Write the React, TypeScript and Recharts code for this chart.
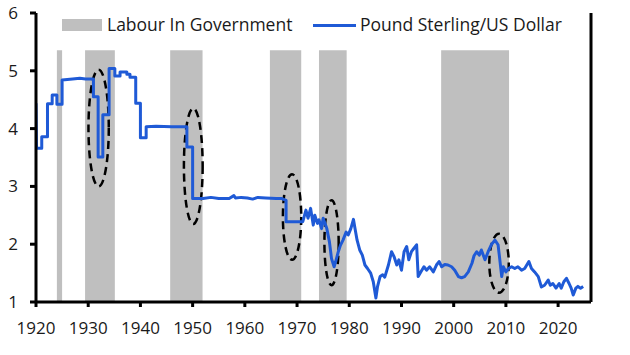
import { LineChart, Line, XAxis, YAxis, ReferenceArea } from "recharts";

// GBP/USD: [year, dollars per pound]
const interwar: [number, number][] = [
  [1920.0, 4.44], [1920.1, 3.66], [1921.1, 3.66], [1921.1, 3.86], [1922.2, 3.86],
  [1922.2, 4.43], [1923.1, 4.43], [1923.1, 4.58], [1924.0, 4.58], [1924.0, 4.42],
  [1925.0, 4.42], [1925.0, 4.84], [1926.0, 4.85], [1927.0, 4.86], [1928.4, 4.87],
  [1929.5, 4.86], [1931.0, 4.86], [1931.0, 4.55], [1931.9, 4.55], [1931.9, 3.51],
  [1932.8, 3.51], [1932.8, 4.24], [1934.0, 4.24], [1934.0, 5.04], [1935.1, 5.04],
  [1935.1, 4.91], [1936.1, 4.91], [1936.1, 4.98], [1937.4, 4.98], [1937.4, 4.94],
  [1938.0, 4.94], [1938.0, 4.89], [1939.1, 4.89], [1939.1, 4.44], [1940.0, 4.44],
  [1940.0, 3.84], [1941.1, 3.84], [1941.1, 4.03], [1943.0, 4.04], [1946.0, 4.03],
  [1948.9, 4.03], [1948.9, 3.68], [1950.0, 3.68], [1950.0, 2.79],
];

const brettonWoods: [number, number][] = [
  [1952.0, 2.79], [1953.5, 2.81], [1955.0, 2.79], [1957.0, 2.79], [1957.9, 2.84],
  [1958.2, 2.8], [1959.3, 2.81], [1960.5, 2.8], [1961.5, 2.78], [1962.5, 2.81],
  [1964.0, 2.8], [1966.0, 2.79], [1967.1, 2.79], [1967.9, 2.76], [1967.9, 2.39],
  [1969.0, 2.39], [1970.5, 2.39], [1971.1, 2.39],
];

const floating: [number, number][] = [
  [1971.7, 2.59], [1972.1, 2.45], [1972.6, 2.62], [1973.1, 2.33], [1973.4, 2.5],
  [1973.9, 2.36], [1974.2, 2.42], [1974.7, 2.27], [1975.0, 2.45], [1975.7, 2.27],
  [1976.2, 2.04], [1976.6, 1.75], [1977.1, 1.61], [1977.4, 1.7], [1977.9, 1.87],
  [1978.3, 1.98], [1978.8, 2.07], [1979.4, 2.21], [1979.8, 2.16], [1980.3, 2.27],
  [1980.8, 2.43], [1981.1, 2.27], [1981.5, 2.07], [1982.0, 1.9], [1982.5, 1.81],
  [1983.0, 1.64], [1983.5, 1.58], [1984.1, 1.5], [1984.6, 1.35], [1985.1, 1.07],
  [1985.4, 1.26], [1985.9, 1.44], [1986.4, 1.47], [1986.8, 1.43], [1987.5, 1.64],
  [1988.1, 1.87], [1988.6, 1.78], [1989.1, 1.64], [1989.5, 1.73], [1990.0, 1.55],
  [1990.5, 1.87], [1991.0, 1.96], [1991.4, 1.73], [1991.9, 1.87], [1992.4, 1.93],
  [1992.9, 1.99], [1993.2, 1.44], [1993.7, 1.52], [1994.3, 1.61], [1994.8, 1.55],
  [1995.4, 1.61], [1996.1, 1.52], [1996.7, 1.64], [1997.2, 1.7], [1997.7, 1.61],
  [1998.3, 1.65], [1998.9, 1.64], [1999.6, 1.61], [2000.2, 1.55], [2000.9, 1.44],
  [2001.5, 1.42], [2002.1, 1.44], [2002.8, 1.52], [2003.5, 1.67], [2003.9, 1.8],
  [2004.4, 1.87], [2004.9, 1.81], [2005.3, 1.9], [2006.0, 1.73], [2006.6, 1.87],
  [2007.2, 1.99], [2007.9, 2.07], [2008.5, 1.99], [2008.8, 1.76], [2009.2, 1.44],
  [2009.5, 1.61], [2010.0, 1.52], [2010.5, 1.58], [2011.1, 1.61], [2011.7, 1.58],
  [2012.3, 1.61], [2013.0, 1.55], [2013.6, 1.58], [2014.4, 1.7], [2014.9, 1.58],
  [2015.5, 1.52], [2016.2, 1.44], [2016.8, 1.26], [2017.4, 1.29], [2018.1, 1.38],
  [2018.5, 1.29], [2019.0, 1.32], [2019.6, 1.24], [2020.2, 1.32], [2020.6, 1.24],
  [2021.1, 1.35], [2021.6, 1.41], [2022.1, 1.32], [2022.5, 1.24], [2022.9, 1.12],
  [2023.4, 1.24], [2023.8, 1.27], [2024.3, 1.24], [2024.8, 1.27],
];

// Labour in government (start, end)
const labourStart = [1924.0, 1929.4, 1945.7, 1964.8, 1974.2, 1997.6];
const labourEnd = [1925.0, 1935.1, 1951.9, 1970.8, 1979.5, 2010.6];

// devaluation circles: [x1, x2, y1, y2]
const devaluations: [number, number, number, number][] = [
  [1930.05, 1933.94, 3.0, 5.02],
  [1948.33, 1951.92, 2.35, 4.35],
  [1967.29, 1970.8, 1.73, 3.21],
  [1975.24, 1977.97, 1.29, 2.76],
  [2006.82, 2010.55, 1.16, 2.18],
];

const xTicks = [1920, 1930, 1940, 1950, 1960, 1970, 1980, 1990, 2000, 2010, 2020];
const yTicks = [1, 2, 3, 4, 5, 6];

const data = [...interwar, ...brettonWoods, ...floating].map(([year, rate]) => ({ year, rate }));

const FONT = "'Open Sans', sans-serif";
const BLUE = "#1f5ad6";
const INK = "#1a1a1a";
const tickStyle = { fontSize: 17, fill: INK, fontFamily: FONT };
const axisStroke = { stroke: "#000", strokeWidth: 3 };

// eslint-disable-next-line @typescript-eslint/no-explicit-any
function DashedEllipse(props: any) {
  const { x, y, width, height } = props;
  return (
    <ellipse
      cx={x + width / 2}
      cy={y + height / 2}
      rx={Math.abs(width) / 2}
      ry={Math.abs(height) / 2}
      fill="none"
      stroke="#000"
      strokeWidth={2.5}
      strokeDasharray="8 5"
    />
  );
}

const legendText = { position: "absolute" as const, top: 12, fontSize: 17.5, color: INK, lineHeight: "24px", whiteSpace: "nowrap" as const };

export default function App() {
  return (
    <div style={{ position: "absolute", left: 0, top: 0, width: 630, height: 355, background: "#fff", fontFamily: FONT }}>
      <LineChart width={630} height={355} data={data} margin={{ top: 13, right: 0, bottom: 23, left: 0 }}>
        {labourStart.map((s, i) => (
          <ReferenceArea
            key={`lab${i}`}
            yAxisId="left"
            x1={s}
            x2={labourEnd[i]}
            y1={1}
            y2={5.355}
            fill="#bfbfbf"
            fillOpacity={1}
            stroke="none"
          />
        ))}
        <XAxis
          dataKey="year"
          type="number"
          domain={[1920, 2026.3]}
          ticks={xTicks}
          allowDataOverflow
          tick={tickStyle}
          axisLine={axisStroke}
          tickLine={axisStroke}
          tickSize={5}
          tickMargin={15}
          height={30}
        />
        <YAxis
          yAxisId="left"
          domain={[1, 6]}
          ticks={yTicks}
          tick={tickStyle}
          axisLine={axisStroke}
          tickLine={axisStroke}
          tickSize={6}
          tickMargin={12}
          width={36}
        />
        <YAxis
          yAxisId="right"
          orientation="right"
          domain={[1, 6]}
          ticks={yTicks}
          tick={tickStyle}
          axisLine={axisStroke}
          tickLine={axisStroke}
          tickSize={5}
          tickMargin={4}
          width={39}
        />
        <Line
          yAxisId="left"
          type="linear"
          dataKey="rate"
          stroke={BLUE}
          strokeWidth={3}
          strokeLinejoin="round"
          dot={false}
          isAnimationActive={false}
        />
        {devaluations.map(([x1, x2, y1, y2], i) => (
          <ReferenceArea
            key={`dev${i}`}
            yAxisId="left"
            x1={x1}
            x2={x2}
            y1={y1}
            y2={y2}
            ifOverflow="visible"
            shape={DashedEllipse}
          />
        ))}
      </LineChart>
      <div style={{ position: "absolute", left: 62, top: 19, width: 40, height: 12, background: "#bfbfbf" }} />
      <div style={{ ...legendText, left: 107 }}>Labour In Government</div>
      <div style={{ position: "absolute", left: 313, top: 23.5, width: 43, height: 3, background: BLUE }} />
      <div style={{ ...legendText, left: 360 }}>Pound Sterling/US Dollar</div>
    </div>
  );
}
